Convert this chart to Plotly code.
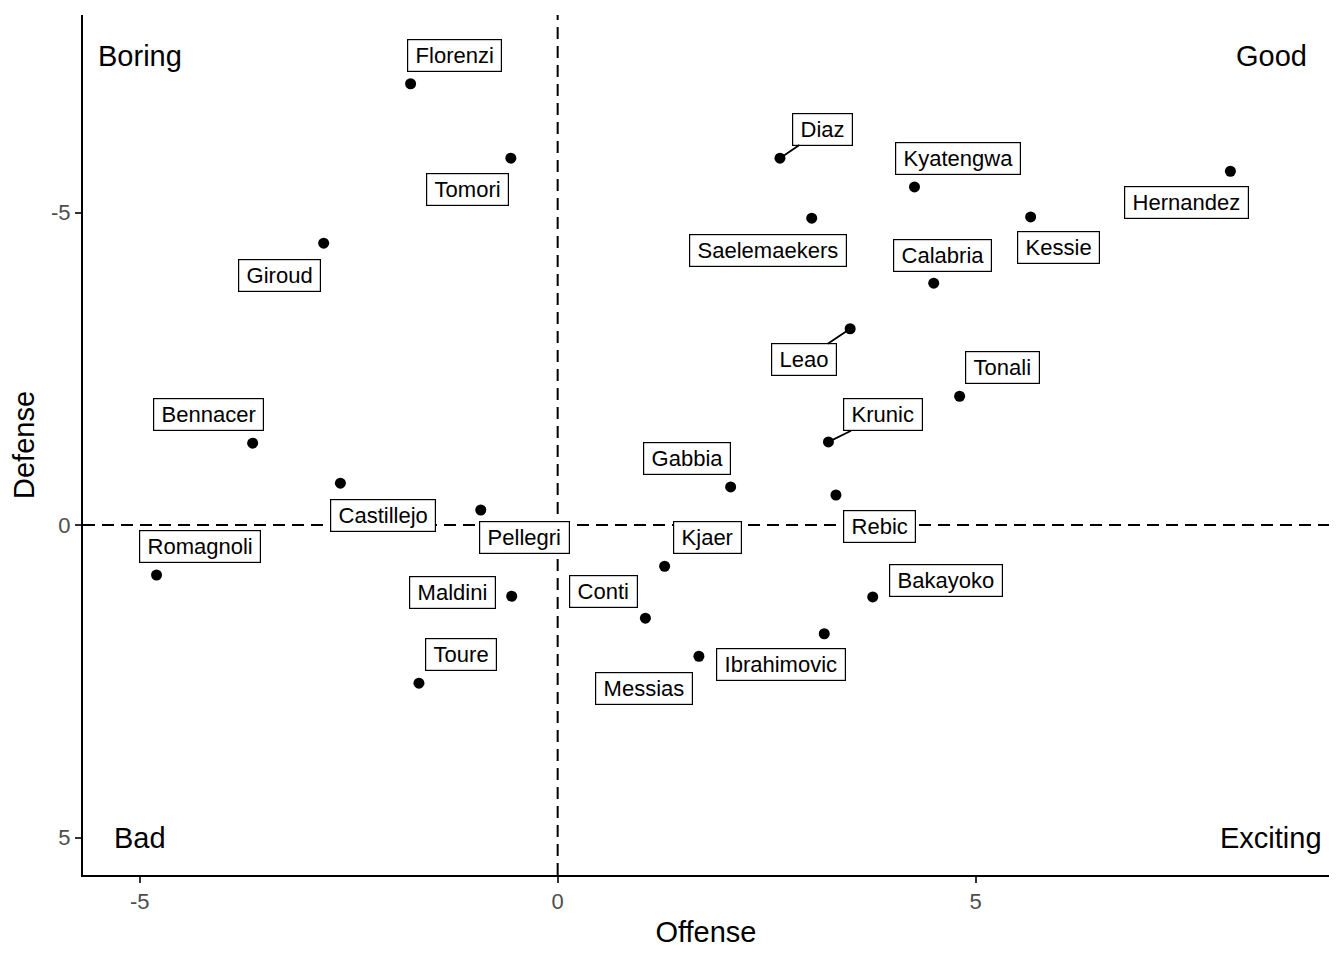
import plotly.graph_objects as go

players = ["Florenzi", "Tomori", "Giroud", "Bennacer", "Castillejo", "Pellegri",
           "Romagnoli", "Maldini", "Toure", "Diaz", "Kyatengwa", "Hernandez",
           "Saelemaekers", "Kessie", "Calabria", "Leao", "Tonali", "Krunic",
           "Gabbia", "Rebic", "Kjaer", "Bakayoko", "Conti", "Ibrahimovic", "Messias"]
offense = [-1.76, -0.56, -2.80, -3.65, -2.60, -0.92, -4.80, -0.55, -1.66, 2.66,
           4.27, 8.05, 3.04, 5.66, 4.50, 3.50, 4.81, 3.24, 2.07, 3.33, 1.28,
           3.77, 1.05, 3.19, 1.69]
defense = [-7.06, -5.87, -4.51, -1.31, -0.67, -0.24, 0.80, 1.14, 2.53, -5.87,
           -5.41, -5.66, -4.91, -4.93, -3.87, -3.14, -2.06, -1.33, -0.61, -0.48,
           0.66, 1.15, 1.49, 1.74, 2.10]

quadrant_labels = ["Boring", "Good", "Bad", "Exciting"]
quadrant_x = [-5.0, 8.54, -5.0, 8.54]
quadrant_y = [-7.5, -7.5, 5.0, 5.0]

# label placement (pixel offsets from point to label centre), repel-style
label_offsets = {
    "Florenzi": (44, -28), "Tomori": (-43, 31), "Giroud": (-44, 32),
    "Bennacer": (-44, -29), "Castillejo": (43, 32), "Pellegri": (44, 27),
    "Romagnoli": (43, -29), "Maldini": (-59, -4), "Toure": (42, -29),
    "Diaz": (43, -29), "Kyatengwa": (43, -28), "Hernandez": (-44, 31),
    "Saelemaekers": (-44, 32), "Kessie": (28, 31), "Calabria": (9, -28),
    "Leao": (-46, 31), "Tonali": (43, -29), "Krunic": (55, -27),
    "Gabbia": (-44, -28), "Rebic": (44, 31), "Kjaer": (43, -29),
    "Bakayoko": (73, -16), "Conti": (-42, -27), "Ibrahimovic": (-43, 31),
    "Messias": (-55, 32),
}
with_segment = {"Diaz", "Leao", "Krunic"}

FONT = "Liberation Sans, Arial, sans-serif"

fig = go.Figure()
fig.add_trace(go.Scatter(
    x=offense, y=defense, mode="markers",
    marker=dict(color="black", size=11),
    hoverinfo="text", text=players, showlegend=False,
))

annotations = []
for name, xv, yv in zip(players, offense, defense):
    ax, ay = label_offsets[name]
    seg = name in with_segment
    annotations.append(dict(
        x=xv, y=yv, xref="x", yref="y", text="\u2009" + name + "\u2009",
        showarrow=True, ax=ax, ay=ay, axref="pixel", ayref="pixel",
        arrowhead=0, arrowwidth=1.8 if seg else 0.1,
        arrowcolor="black" if seg else "rgba(0,0,0,0)",
        standoff=4, startstandoff=0,
        bgcolor="white", bordercolor="black", borderwidth=1.2, borderpad=3,
        font=dict(family=FONT, size=22, color="black"),
    ))
for t, xv, yv in zip(quadrant_labels, quadrant_x, quadrant_y):
    annotations.append(dict(
        x=xv, y=yv, xref="x", yref="y", text=t, showarrow=False,
        font=dict(family=FONT, size=29, color="black"),
    ))

fig.add_shape(type="line", x0=0, x1=0, y0=0, y1=1, xref="x", yref="paper",
              line=dict(color="black", width=2, dash="12px,7px"), layer="below")
fig.add_shape(type="line", x0=0, x1=1, y0=0, y1=0, xref="paper", yref="y",
              line=dict(color="black", width=2, dash="12px,7px"), layer="below")

fig.update_layout(
    width=1328, height=944,
    margin=dict(l=75, r=7, t=7, b=77),
    plot_bgcolor="white", paper_bgcolor="white",
    font=dict(family=FONT),
    annotations=annotations,
    xaxis=dict(
        range=[-5.68, 9.23], tickvals=[-5, 0, 5], ticktext=["-5", "0", "5"],
        showgrid=False, zeroline=False, showline=True, linecolor="black", linewidth=2,
        ticks="outside", ticklen=6, tickcolor="#333333", tickwidth=1.6,
        tickfont=dict(family=FONT, size=22, color="#4D4D4D"),
        title=dict(text="Offense", font=dict(family=FONT, size=29, color="black"), standoff=8),
    ),
    yaxis=dict(
        range=[5.6, -8.16], tickvals=[-5, 0, 5], ticktext=["-5", "0", "5"],
        showgrid=False, zeroline=False, showline=True, linecolor="black", linewidth=2,
        ticks="outside", ticklen=6, tickcolor="#333333", tickwidth=1.6,
        tickfont=dict(family=FONT, size=22, color="#4D4D4D"),
        title=dict(text="Defense", font=dict(family=FONT, size=29, color="black"), standoff=8),
    ),
)

fig.write_html("out.html")
